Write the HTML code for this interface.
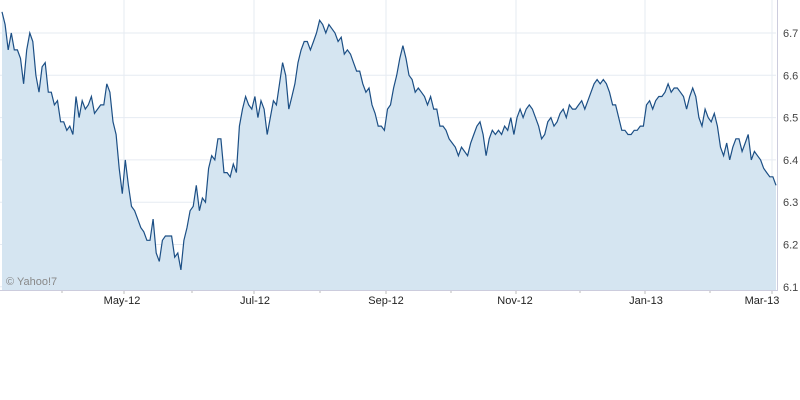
<!DOCTYPE html>
<html><head><meta charset="utf-8"><style>
body{margin:0;background:#fff;width:800px;height:400px;overflow:hidden}
svg{display:block;font-family:"Liberation Sans",sans-serif}
</style></head><body>
<svg id="chart" width="800" height="400"></svg>
<script>
const values=[6.75,6.72,6.66,6.70,6.66,6.66,6.64,6.58,6.66,6.70,6.68,6.60,6.56,6.62,6.63,6.56,6.56,6.53,6.54,6.49,6.49,6.47,6.48,6.46,6.55,6.50,6.54,6.52,6.53,6.55,6.51,6.52,6.53,6.53,6.58,6.56,6.49,6.46,6.38,6.32,6.40,6.34,6.29,6.28,6.26,6.24,6.23,6.21,6.21,6.26,6.18,6.16,6.21,6.22,6.22,6.22,6.17,6.18,6.14,6.21,6.24,6.28,6.29,6.34,6.28,6.31,6.30,6.38,6.41,6.40,6.45,6.45,6.37,6.37,6.36,6.39,6.37,6.48,6.52,6.55,6.53,6.52,6.55,6.50,6.54,6.52,6.46,6.50,6.54,6.53,6.58,6.63,6.60,6.52,6.55,6.58,6.63,6.66,6.68,6.68,6.66,6.68,6.70,6.73,6.72,6.70,6.72,6.71,6.70,6.68,6.69,6.65,6.66,6.65,6.63,6.61,6.61,6.58,6.56,6.57,6.53,6.51,6.48,6.48,6.47,6.52,6.53,6.57,6.60,6.64,6.67,6.64,6.60,6.59,6.56,6.57,6.56,6.55,6.53,6.55,6.52,6.52,6.48,6.48,6.47,6.45,6.44,6.43,6.41,6.43,6.42,6.41,6.44,6.46,6.48,6.49,6.46,6.41,6.45,6.47,6.46,6.47,6.46,6.48,6.47,6.50,6.46,6.50,6.52,6.50,6.52,6.53,6.52,6.50,6.48,6.45,6.46,6.49,6.50,6.48,6.49,6.51,6.52,6.50,6.53,6.52,6.52,6.53,6.54,6.52,6.54,6.56,6.58,6.59,6.58,6.59,6.58,6.56,6.53,6.53,6.50,6.47,6.47,6.46,6.46,6.47,6.47,6.48,6.48,6.53,6.54,6.52,6.54,6.55,6.55,6.56,6.58,6.56,6.57,6.57,6.56,6.55,6.52,6.55,6.57,6.55,6.50,6.48,6.52,6.50,6.49,6.51,6.48,6.43,6.41,6.44,6.40,6.43,6.45,6.45,6.42,6.44,6.46,6.40,6.42,6.41,6.40,6.38,6.37,6.36,6.36,6.34];
const yTicks=[6.1,6.2,6.3,6.4,6.5,6.6,6.7];
const xLabels=["May-12","Jul-12","Sep-12","Nov-12","Jan-13","Mar-13"];
const xGridPos=[124,254,386,516,645,772];
const xTextPos=[122,255,386,515,646,762];
const minorPos=[62,192,320,451,580,710];
const NS="http://www.w3.org/2000/svg";
const svg=document.getElementById('chart');
const L=2,R=776,T=0,B=290;
const yS=v=>33+(6.7-v)*423;
const xS=i=>L+i*(R-L)/(values.length-1);
function mk(t,a,p){const e=document.createElementNS(NS,t);for(const k in a)e.setAttribute(k,a[k]);(p||svg).appendChild(e);return e;}
const grid=mk('g',{});


yTicks.forEach(v=>{
 mk('line',{x1:0,x2:R,y1:yS(v),y2:yS(v),stroke:'#e6ebf2','stroke-width':1},grid);
 const t=mk('text',{x:783,y:yS(v)+4,'font-size':11,fill:'#444'});
 t.textContent=v.toFixed(1);
 
 
});
xGridPos.forEach((x,i)=>{
 mk('line',{x1:x,x2:x,y1:0,y2:B,stroke:'#e6ebf2','stroke-width':1},grid);
 mk('line',{x1:x,x2:x,y1:B,y2:B+4,stroke:'#bbb'},grid);
 const t=mk('text',{x:xTextPos[i],y:304,'font-size':11,fill:'#222','text-anchor':'middle'});
 t.textContent=xLabels[i];
 
 
});
minorPos.forEach(x=>mk('line',{x1:x,x2:x,y1:B,y2:B+3,stroke:'#bbb'},grid));
let pts=values.map((v,i)=>xS(i).toFixed(1)+','+yS(v).toFixed(1));
const area=mk('polygon',{points:L+','+B+' '+pts.join(' ')+' '+R+','+B,fill:'#d5e5f1'});


const line=mk('polyline',{points:pts.join(' '),fill:'none',stroke:'#1c4f85','stroke-width':1.2});


const ax=mk('line',{x1:777.5,x2:777.5,y1:0,y2:B,stroke:'#ccd'});


const bx=mk('line',{x1:0,x2:778,y1:B+0.5,y2:B+0.5,stroke:'#ccd'});


const c=mk('text',{x:6,y:285,'font-size':11,fill:'#888'});
c.textContent='© Yahoo!7';


</script>
</body></html>
